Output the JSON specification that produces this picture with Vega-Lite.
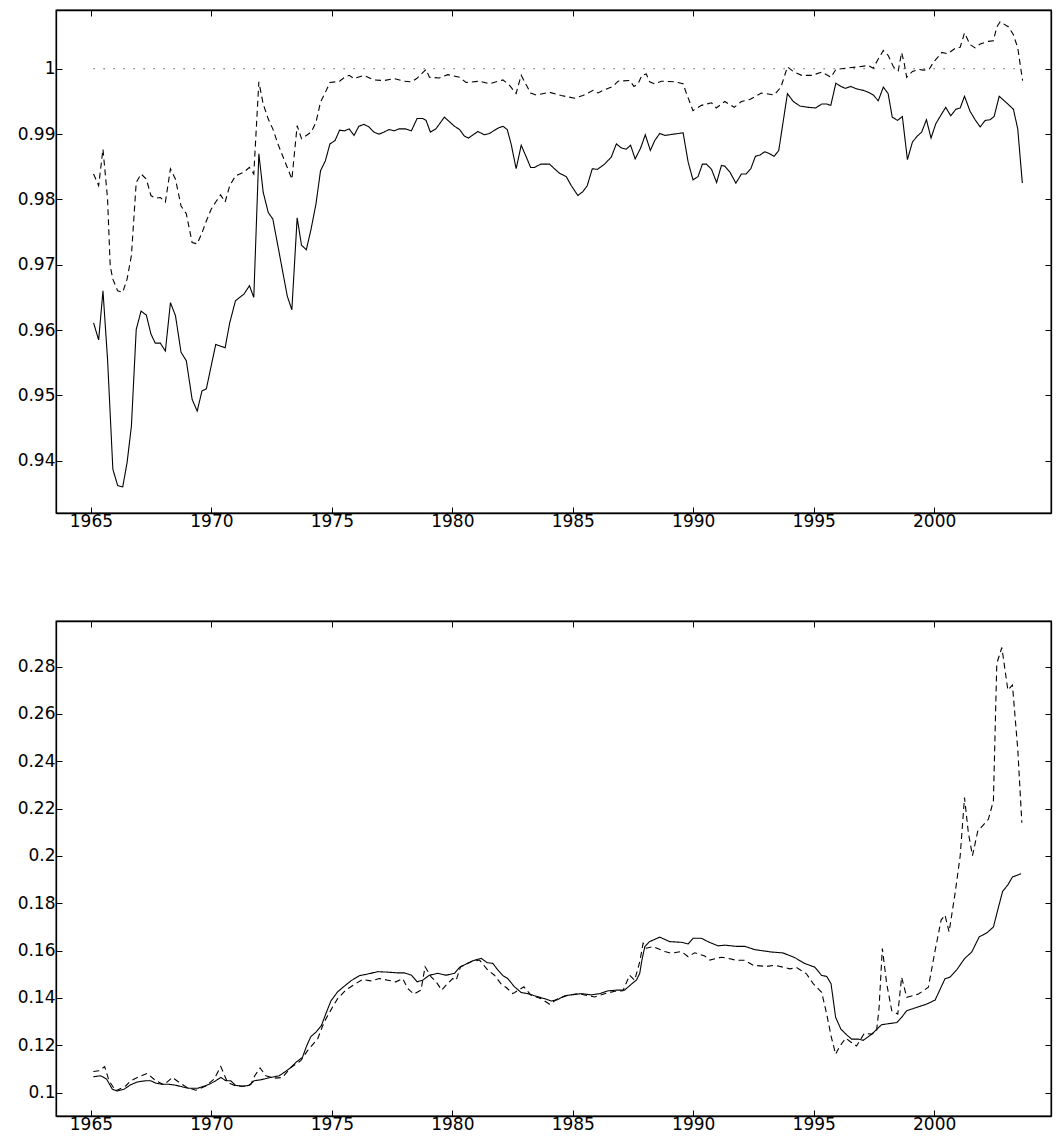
{
"$schema":"https://vega.github.io/schema/vega-lite/v6.json",
"background":"white",
"padding":{"left":16,"top":8,"right":2,"bottom":0},
"config":{"font":"DejaVu Sans","view":{"stroke":"black","strokeWidth":1.3},
 "axis":{"domainColor":"black","domainWidth":1.3,"tickColor":"black","tickSize":-6,"labelFontSize":17,"labelColor":"black","labelPadding":7,"grid":false,"title":null,"labelFont":"DejaVu Sans"},
 "axisX":{"labelPadding":6}},
"datasets":{
"top":[
{"t":1965.11,"v":0.9611,"s":"a"},{"t":1965.32,"v":0.9585,"s":"a"},{"t":1965.5,"v":0.966,"s":"a"},{"t":1965.69,"v":0.9555,"s":"a"},{"t":1965.91,"v":0.9387,"s":"a"},{"t":1966.11,"v":0.9362,"s":"a"},{"t":1966.32,"v":0.936,"s":"a"},{"t":1966.5,"v":0.9397,"s":"a"},{"t":1966.68,"v":0.9453,"s":"a"},{"t":1966.88,"v":0.9601,"s":"a"},{"t":1967.08,"v":0.9629,"s":"a"},{"t":1967.3,"v":0.9623,"s":"a"},{"t":1967.49,"v":0.9594,"s":"a"},{"t":1967.67,"v":0.958,"s":"a"},{"t":1967.88,"v":0.958,"s":"a"},{"t":1968.09,"v":0.9568,"s":"a"},{"t":1968.3,"v":0.9642,"s":"a"},{"t":1968.51,"v":0.9622,"s":"a"},{"t":1968.74,"v":0.9566,"s":"a"},{"t":1968.96,"v":0.9553,"s":"a"},{"t":1969.2,"v":0.9494,"s":"a"},{"t":1969.41,"v":0.9476,"s":"a"},{"t":1969.61,"v":0.9507,"s":"a"},{"t":1969.79,"v":0.951,"s":"a"},{"t":1969.99,"v":0.9545,"s":"a"},{"t":1970.18,"v":0.9578,"s":"a"},{"t":1970.57,"v":0.9573,"s":"a"},{"t":1970.76,"v":0.9611,"s":"a"},{"t":1971.0,"v":0.9645,"s":"a"},{"t":1971.35,"v":0.9655,"s":"a"},{"t":1971.58,"v":0.9668,"s":"a"},{"t":1971.76,"v":0.965,"s":"a"},{"t":1971.97,"v":0.987,"s":"a"},{"t":1972.15,"v":0.9811,"s":"a"},{"t":1972.36,"v":0.978,"s":"a"},{"t":1972.55,"v":0.977,"s":"a"},{"t":1972.76,"v":0.9729,"s":"a"},{"t":1973.15,"v":0.9652,"s":"a"},{"t":1973.34,"v":0.9631,"s":"a"},{"t":1973.56,"v":0.9772,"s":"a"},{"t":1973.74,"v":0.973,"s":"a"},{"t":1973.94,"v":0.9723,"s":"a"},{"t":1974.14,"v":0.9755,"s":"a"},{"t":1974.34,"v":0.9793,"s":"a"},{"t":1974.53,"v":0.9844,"s":"a"},{"t":1974.73,"v":0.9859,"s":"a"},{"t":1974.92,"v":0.9885,"s":"a"},{"t":1975.13,"v":0.989,"s":"a"},{"t":1975.32,"v":0.9906,"s":"a"},{"t":1975.53,"v":0.9905,"s":"a"},{"t":1975.72,"v":0.9908,"s":"a"},{"t":1975.92,"v":0.9898,"s":"a"},{"t":1976.12,"v":0.9912,"s":"a"},{"t":1976.33,"v":0.9915,"s":"a"},{"t":1976.54,"v":0.9911,"s":"a"},{"t":1976.75,"v":0.9903,"s":"a"},{"t":1976.96,"v":0.99,"s":"a"},{"t":1977.16,"v":0.9903,"s":"a"},{"t":1977.37,"v":0.9907,"s":"a"},{"t":1977.58,"v":0.9905,"s":"a"},{"t":1977.79,"v":0.9908,"s":"a"},{"t":1978.06,"v":0.9908,"s":"a"},{"t":1978.3,"v":0.9905,"s":"a"},{"t":1978.54,"v":0.9924,"s":"a"},{"t":1978.77,"v":0.9924,"s":"a"},{"t":1978.91,"v":0.9921,"s":"a"},{"t":1979.09,"v":0.9903,"s":"a"},{"t":1979.32,"v":0.9908,"s":"a"},{"t":1979.67,"v":0.9926,"s":"a"},{"t":1980.09,"v":0.9912,"s":"a"},{"t":1980.3,"v":0.9907,"s":"a"},{"t":1980.5,"v":0.9897,"s":"a"},{"t":1980.67,"v":0.9894,"s":"a"},{"t":1981.06,"v":0.9904,"s":"a"},{"t":1981.33,"v":0.9899,"s":"a"},{"t":1981.54,"v":0.9901,"s":"a"},{"t":1981.89,"v":0.9909,"s":"a"},{"t":1982.1,"v":0.9912,"s":"a"},{"t":1982.28,"v":0.9907,"s":"a"},{"t":1982.44,"v":0.9885,"s":"a"},{"t":1982.65,"v":0.9847,"s":"a"},{"t":1982.86,"v":0.9883,"s":"a"},{"t":1983.07,"v":0.9865,"s":"a"},{"t":1983.25,"v":0.9849,"s":"a"},{"t":1983.41,"v":0.9849,"s":"a"},{"t":1983.67,"v":0.9854,"s":"a"},{"t":1984.04,"v":0.9854,"s":"a"},{"t":1984.24,"v":0.9847,"s":"a"},{"t":1984.45,"v":0.984,"s":"a"},{"t":1984.73,"v":0.9835,"s":"a"},{"t":1984.94,"v":0.9821,"s":"a"},{"t":1985.21,"v":0.9806,"s":"a"},{"t":1985.42,"v":0.9812,"s":"a"},{"t":1985.6,"v":0.9821,"s":"a"},{"t":1985.81,"v":0.9847,"s":"a"},{"t":1986.02,"v":0.9846,"s":"a"},{"t":1986.32,"v":0.9854,"s":"a"},{"t":1986.6,"v":0.9865,"s":"a"},{"t":1986.81,"v":0.9885,"s":"a"},{"t":1987.01,"v":0.9879,"s":"a"},{"t":1987.22,"v":0.9877,"s":"a"},{"t":1987.4,"v":0.9883,"s":"a"},{"t":1987.59,"v":0.9862,"s":"a"},{"t":1987.82,"v":0.9879,"s":"a"},{"t":1988.01,"v":0.9899,"s":"a"},{"t":1988.22,"v":0.9875,"s":"a"},{"t":1988.4,"v":0.989,"s":"a"},{"t":1988.61,"v":0.9901,"s":"a"},{"t":1988.82,"v":0.9898,"s":"a"},{"t":1989.58,"v":0.9902,"s":"a"},{"t":1989.79,"v":0.9857,"s":"a"},{"t":1989.99,"v":0.983,"s":"a"},{"t":1990.2,"v":0.9835,"s":"a"},{"t":1990.38,"v":0.9854,"s":"a"},{"t":1990.55,"v":0.9854,"s":"a"},{"t":1990.76,"v":0.9846,"s":"a"},{"t":1990.97,"v":0.9826,"s":"a"},{"t":1991.17,"v":0.9852,"s":"a"},{"t":1991.31,"v":0.9851,"s":"a"},{"t":1991.52,"v":0.9842,"s":"a"},{"t":1991.77,"v":0.9825,"s":"a"},{"t":1992.0,"v":0.9839,"s":"a"},{"t":1992.2,"v":0.9839,"s":"a"},{"t":1992.39,"v":0.9847,"s":"a"},{"t":1992.58,"v":0.9866,"s":"a"},{"t":1992.77,"v":0.9868,"s":"a"},{"t":1992.97,"v":0.9873,"s":"a"},{"t":1993.17,"v":0.987,"s":"a"},{"t":1993.36,"v":0.9866,"s":"a"},{"t":1993.55,"v":0.9875,"s":"a"},{"t":1993.91,"v":0.9962,"s":"a"},{"t":1994.15,"v":0.995,"s":"a"},{"t":1994.43,"v":0.9943,"s":"a"},{"t":1994.77,"v":0.9941,"s":"a"},{"t":1995.08,"v":0.994,"s":"a"},{"t":1995.33,"v":0.9946,"s":"a"},{"t":1995.54,"v":0.9946,"s":"a"},{"t":1995.71,"v":0.9944,"s":"a"},{"t":1995.92,"v":0.9978,"s":"a"},{"t":1996.13,"v":0.9973,"s":"a"},{"t":1996.32,"v":0.997,"s":"a"},{"t":1996.53,"v":0.9973,"s":"a"},{"t":1996.8,"v":0.9969,"s":"a"},{"t":1997.06,"v":0.9967,"s":"a"},{"t":1997.27,"v":0.9964,"s":"a"},{"t":1997.47,"v":0.996,"s":"a"},{"t":1997.68,"v":0.9951,"s":"a"},{"t":1997.89,"v":0.9972,"s":"a"},{"t":1998.09,"v":0.9962,"s":"a"},{"t":1998.26,"v":0.9926,"s":"a"},{"t":1998.48,"v":0.9921,"s":"a"},{"t":1998.68,"v":0.9927,"s":"a"},{"t":1998.89,"v":0.9861,"s":"a"},{"t":1999.1,"v":0.9888,"s":"a"},{"t":1999.3,"v":0.9897,"s":"a"},{"t":1999.48,"v":0.9903,"s":"a"},{"t":1999.68,"v":0.9922,"s":"a"},{"t":1999.87,"v":0.9894,"s":"a"},{"t":2000.07,"v":0.9916,"s":"a"},{"t":2000.28,"v":0.9929,"s":"a"},{"t":2000.48,"v":0.9941,"s":"a"},{"t":2000.69,"v":0.9928,"s":"a"},{"t":2000.9,"v":0.9938,"s":"a"},{"t":2001.08,"v":0.994,"s":"a"},{"t":2001.26,"v":0.9958,"s":"a"},{"t":2001.49,"v":0.9935,"s":"a"},{"t":2001.7,"v":0.9922,"s":"a"},{"t":2001.91,"v":0.9911,"s":"a"},{"t":2002.12,"v":0.9921,"s":"a"},{"t":2002.32,"v":0.9922,"s":"a"},{"t":2002.49,"v":0.9927,"s":"a"},{"t":2002.7,"v":0.9958,"s":"a"},{"t":2002.91,"v":0.9951,"s":"a"},{"t":2003.09,"v":0.9945,"s":"a"},{"t":2003.29,"v":0.9938,"s":"a"},{"t":2003.47,"v":0.9908,"s":"a"},{"t":2003.66,"v":0.9825,"s":"a"},
{"t":1965.11,"v":0.9839,"s":"b"},{"t":1965.32,"v":0.9821,"s":"b"},{"t":1965.5,"v":0.9877,"s":"b"},{"t":1965.69,"v":0.9801,"s":"b"},{"t":1965.8,"v":0.9698,"s":"b"},{"t":1965.91,"v":0.9678,"s":"b"},{"t":1966.11,"v":0.966,"s":"b"},{"t":1966.32,"v":0.9658,"s":"b"},{"t":1966.5,"v":0.9678,"s":"b"},{"t":1966.68,"v":0.9714,"s":"b"},{"t":1966.88,"v":0.9826,"s":"b"},{"t":1967.08,"v":0.9839,"s":"b"},{"t":1967.3,"v":0.9831,"s":"b"},{"t":1967.49,"v":0.9806,"s":"b"},{"t":1967.67,"v":0.9802,"s":"b"},{"t":1967.88,"v":0.9803,"s":"b"},{"t":1968.09,"v":0.9796,"s":"b"},{"t":1968.3,"v":0.9847,"s":"b"},{"t":1968.51,"v":0.9831,"s":"b"},{"t":1968.74,"v":0.979,"s":"b"},{"t":1968.96,"v":0.9778,"s":"b"},{"t":1969.2,"v":0.9734,"s":"b"},{"t":1969.41,"v":0.9732,"s":"b"},{"t":1969.61,"v":0.9749,"s":"b"},{"t":1969.79,"v":0.9767,"s":"b"},{"t":1969.99,"v":0.9785,"s":"b"},{"t":1970.18,"v":0.9796,"s":"b"},{"t":1970.38,"v":0.9807,"s":"b"},{"t":1970.57,"v":0.9796,"s":"b"},{"t":1970.76,"v":0.9821,"s":"b"},{"t":1971.0,"v":0.9836,"s":"b"},{"t":1971.35,"v":0.9842,"s":"b"},{"t":1971.58,"v":0.9849,"s":"b"},{"t":1971.76,"v":0.9839,"s":"b"},{"t":1971.97,"v":0.998,"s":"b"},{"t":1972.15,"v":0.9946,"s":"b"},{"t":1972.36,"v":0.9923,"s":"b"},{"t":1972.55,"v":0.9908,"s":"b"},{"t":1972.76,"v":0.9885,"s":"b"},{"t":1973.15,"v":0.9849,"s":"b"},{"t":1973.34,"v":0.9831,"s":"b"},{"t":1973.56,"v":0.9913,"s":"b"},{"t":1973.74,"v":0.9893,"s":"b"},{"t":1973.94,"v":0.9898,"s":"b"},{"t":1974.14,"v":0.9903,"s":"b"},{"t":1974.34,"v":0.9918,"s":"b"},{"t":1974.53,"v":0.9949,"s":"b"},{"t":1974.73,"v":0.9964,"s":"b"},{"t":1974.92,"v":0.9979,"s":"b"},{"t":1975.13,"v":0.998,"s":"b"},{"t":1975.32,"v":0.9981,"s":"b"},{"t":1975.53,"v":0.9987,"s":"b"},{"t":1975.72,"v":0.999,"s":"b"},{"t":1975.92,"v":0.9985,"s":"b"},{"t":1976.33,"v":0.999,"s":"b"},{"t":1976.75,"v":0.9983,"s":"b"},{"t":1977.16,"v":0.9982,"s":"b"},{"t":1977.58,"v":0.9985,"s":"b"},{"t":1978.0,"v":0.9981,"s":"b"},{"t":1978.3,"v":0.998,"s":"b"},{"t":1978.52,"v":0.9985,"s":"b"},{"t":1978.91,"v":0.9999,"s":"b"},{"t":1979.05,"v":0.9987,"s":"b"},{"t":1979.46,"v":0.9986,"s":"b"},{"t":1979.81,"v":0.9991,"s":"b"},{"t":1980.3,"v":0.9987,"s":"b"},{"t":1980.57,"v":0.9979,"s":"b"},{"t":1981.13,"v":0.9981,"s":"b"},{"t":1981.54,"v":0.9977,"s":"b"},{"t":1982.1,"v":0.9983,"s":"b"},{"t":1982.37,"v":0.9975,"s":"b"},{"t":1982.65,"v":0.9962,"s":"b"},{"t":1982.72,"v":0.9972,"s":"b"},{"t":1982.86,"v":0.999,"s":"b"},{"t":1983.0,"v":0.998,"s":"b"},{"t":1983.25,"v":0.9963,"s":"b"},{"t":1983.48,"v":0.996,"s":"b"},{"t":1984.04,"v":0.9964,"s":"b"},{"t":1984.52,"v":0.9959,"s":"b"},{"t":1985.08,"v":0.9955,"s":"b"},{"t":1985.42,"v":0.9959,"s":"b"},{"t":1985.84,"v":0.9967,"s":"b"},{"t":1986.05,"v":0.9963,"s":"b"},{"t":1986.25,"v":0.9967,"s":"b"},{"t":1986.67,"v":0.9973,"s":"b"},{"t":1986.88,"v":0.9981,"s":"b"},{"t":1987.36,"v":0.9982,"s":"b"},{"t":1987.54,"v":0.9973,"s":"b"},{"t":1987.71,"v":0.9977,"s":"b"},{"t":1987.87,"v":0.999,"s":"b"},{"t":1988.05,"v":0.9992,"s":"b"},{"t":1988.19,"v":0.998,"s":"b"},{"t":1988.4,"v":0.9977,"s":"b"},{"t":1988.68,"v":0.9981,"s":"b"},{"t":1989.23,"v":0.998,"s":"b"},{"t":1989.58,"v":0.9977,"s":"b"},{"t":1989.72,"v":0.9962,"s":"b"},{"t":1989.99,"v":0.9936,"s":"b"},{"t":1990.34,"v":0.9944,"s":"b"},{"t":1990.76,"v":0.9948,"s":"b"},{"t":1990.96,"v":0.994,"s":"b"},{"t":1991.31,"v":0.995,"s":"b"},{"t":1991.7,"v":0.9941,"s":"b"},{"t":1992.0,"v":0.995,"s":"b"},{"t":1992.35,"v":0.9953,"s":"b"},{"t":1992.83,"v":0.9963,"s":"b"},{"t":1993.36,"v":0.996,"s":"b"},{"t":1993.64,"v":0.9972,"s":"b"},{"t":1993.91,"v":1.0003,"s":"b"},{"t":1994.15,"v":0.9996,"s":"b"},{"t":1994.5,"v":0.999,"s":"b"},{"t":1994.94,"v":0.999,"s":"b"},{"t":1995.33,"v":0.9995,"s":"b"},{"t":1995.72,"v":0.9987,"s":"b"},{"t":1995.92,"v":0.9999,"s":"b"},{"t":1996.37,"v":1.0001,"s":"b"},{"t":1996.85,"v":1.0003,"s":"b"},{"t":1997.27,"v":1.0005,"s":"b"},{"t":1997.47,"v":1.0001,"s":"b"},{"t":1997.68,"v":1.0015,"s":"b"},{"t":1997.89,"v":1.0028,"s":"b"},{"t":1998.1,"v":1.002,"s":"b"},{"t":1998.31,"v":1.0003,"s":"b"},{"t":1998.51,"v":0.9997,"s":"b"},{"t":1998.65,"v":1.0025,"s":"b"},{"t":1998.75,"v":1.001,"s":"b"},{"t":1998.86,"v":0.9987,"s":"b"},{"t":1999.1,"v":0.9996,"s":"b"},{"t":1999.35,"v":0.9999,"s":"b"},{"t":1999.55,"v":0.9998,"s":"b"},{"t":1999.79,"v":0.9999,"s":"b"},{"t":1999.97,"v":1.001,"s":"b"},{"t":2000.32,"v":1.0025,"s":"b"},{"t":2000.56,"v":1.0023,"s":"b"},{"t":2000.9,"v":1.0032,"s":"b"},{"t":2001.08,"v":1.0033,"s":"b"},{"t":2001.26,"v":1.0055,"s":"b"},{"t":2001.49,"v":1.0037,"s":"b"},{"t":2001.7,"v":1.0032,"s":"b"},{"t":2001.91,"v":1.0038,"s":"b"},{"t":2002.25,"v":1.0042,"s":"b"},{"t":2002.46,"v":1.0043,"s":"b"},{"t":2002.6,"v":1.0064,"s":"b"},{"t":2002.74,"v":1.0072,"s":"b"},{"t":2003.09,"v":1.0064,"s":"b"},{"t":2003.29,"v":1.0052,"s":"b"},{"t":2003.47,"v":1.0032,"s":"b"},{"t":2003.67,"v":0.9982,"s":"b"},
{"t":1965.11,"v":1,"s":"c"},{"t":2003.67,"v":1,"s":"c"}
],
"bot":[
{"t":1965.1,"v":0.1067,"s":"a"},{"t":1965.4,"v":0.1071,"s":"a"},{"t":1965.65,"v":0.1057,"s":"a"},{"t":1965.89,"v":0.1014,"s":"a"},{"t":1966.09,"v":0.1007,"s":"a"},{"t":1966.37,"v":0.1014,"s":"a"},{"t":1966.65,"v":0.1033,"s":"a"},{"t":1966.93,"v":0.1045,"s":"a"},{"t":1967.27,"v":0.105,"s":"a"},{"t":1967.48,"v":0.105,"s":"a"},{"t":1967.69,"v":0.104,"s":"a"},{"t":1967.96,"v":0.1035,"s":"a"},{"t":1968.24,"v":0.1035,"s":"a"},{"t":1968.52,"v":0.1031,"s":"a"},{"t":1968.8,"v":0.1024,"s":"a"},{"t":1969.07,"v":0.1018,"s":"a"},{"t":1969.42,"v":0.1018,"s":"a"},{"t":1969.7,"v":0.1027,"s":"a"},{"t":1969.97,"v":0.1038,"s":"a"},{"t":1970.18,"v":0.105,"s":"a"},{"t":1970.39,"v":0.1064,"s":"a"},{"t":1970.6,"v":0.105,"s":"a"},{"t":1970.8,"v":0.105,"s":"a"},{"t":1971.01,"v":0.103,"s":"a"},{"t":1971.29,"v":0.1027,"s":"a"},{"t":1971.57,"v":0.103,"s":"a"},{"t":1971.77,"v":0.105,"s":"a"},{"t":1972.05,"v":0.1054,"s":"a"},{"t":1972.33,"v":0.1061,"s":"a"},{"t":1972.61,"v":0.1067,"s":"a"},{"t":1972.81,"v":0.1071,"s":"a"},{"t":1973.02,"v":0.1085,"s":"a"},{"t":1973.3,"v":0.1106,"s":"a"},{"t":1973.51,"v":0.1128,"s":"a"},{"t":1973.78,"v":0.1149,"s":"a"},{"t":1973.96,"v":0.1199,"s":"a"},{"t":1974.13,"v":0.1237,"s":"a"},{"t":1974.34,"v":0.1255,"s":"a"},{"t":1974.57,"v":0.1284,"s":"a"},{"t":1974.75,"v":0.1333,"s":"a"},{"t":1974.96,"v":0.1387,"s":"a"},{"t":1975.24,"v":0.1426,"s":"a"},{"t":1975.52,"v":0.145,"s":"a"},{"t":1975.79,"v":0.1472,"s":"a"},{"t":1976.14,"v":0.1494,"s":"a"},{"t":1976.49,"v":0.1501,"s":"a"},{"t":1976.9,"v":0.1511,"s":"a"},{"t":1977.32,"v":0.1509,"s":"a"},{"t":1977.73,"v":0.1506,"s":"a"},{"t":1978.01,"v":0.1506,"s":"a"},{"t":1978.31,"v":0.1496,"s":"a"},{"t":1978.54,"v":0.1468,"s":"a"},{"t":1978.77,"v":0.1475,"s":"a"},{"t":1979.05,"v":0.1496,"s":"a"},{"t":1979.4,"v":0.1504,"s":"a"},{"t":1979.74,"v":0.1496,"s":"a"},{"t":1980.09,"v":0.1504,"s":"a"},{"t":1980.3,"v":0.1529,"s":"a"},{"t":1980.57,"v":0.1543,"s":"a"},{"t":1980.85,"v":0.1557,"s":"a"},{"t":1981.2,"v":0.1567,"s":"a"},{"t":1981.45,"v":0.1549,"s":"a"},{"t":1981.68,"v":0.1546,"s":"a"},{"t":1981.89,"v":0.1518,"s":"a"},{"t":1982.1,"v":0.1494,"s":"a"},{"t":1982.3,"v":0.1482,"s":"a"},{"t":1982.58,"v":0.1447,"s":"a"},{"t":1982.86,"v":0.1423,"s":"a"},{"t":1983.14,"v":0.1418,"s":"a"},{"t":1983.48,"v":0.1407,"s":"a"},{"t":1983.83,"v":0.1397,"s":"a"},{"t":1984.11,"v":0.1387,"s":"a"},{"t":1984.38,"v":0.1393,"s":"a"},{"t":1984.66,"v":0.1409,"s":"a"},{"t":1985.01,"v":0.1414,"s":"a"},{"t":1985.35,"v":0.1418,"s":"a"},{"t":1985.77,"v":0.1413,"s":"a"},{"t":1986.11,"v":0.1418,"s":"a"},{"t":1986.46,"v":0.143,"s":"a"},{"t":1986.81,"v":0.1433,"s":"a"},{"t":1987.15,"v":0.1433,"s":"a"},{"t":1987.43,"v":0.1458,"s":"a"},{"t":1987.64,"v":0.1475,"s":"a"},{"t":1987.78,"v":0.1504,"s":"a"},{"t":1987.87,"v":0.156,"s":"a"},{"t":1987.99,"v":0.1617,"s":"a"},{"t":1988.19,"v":0.1638,"s":"a"},{"t":1988.61,"v":0.1657,"s":"a"},{"t":1989.02,"v":0.1638,"s":"a"},{"t":1989.51,"v":0.1635,"s":"a"},{"t":1989.79,"v":0.1628,"s":"a"},{"t":1989.99,"v":0.1652,"s":"a"},{"t":1990.34,"v":0.1652,"s":"a"},{"t":1990.69,"v":0.1634,"s":"a"},{"t":1991.03,"v":0.162,"s":"a"},{"t":1991.31,"v":0.1623,"s":"a"},{"t":1991.79,"v":0.1618,"s":"a"},{"t":1992.14,"v":0.1618,"s":"a"},{"t":1992.56,"v":0.1604,"s":"a"},{"t":1993.25,"v":0.1594,"s":"a"},{"t":1993.73,"v":0.159,"s":"a"},{"t":1994.22,"v":0.157,"s":"a"},{"t":1994.64,"v":0.1545,"s":"a"},{"t":1995.05,"v":0.153,"s":"a"},{"t":1995.33,"v":0.1495,"s":"a"},{"t":1995.54,"v":0.1491,"s":"a"},{"t":1995.72,"v":0.146,"s":"a"},{"t":1995.91,"v":0.1318,"s":"a"},{"t":1996.13,"v":0.1268,"s":"a"},{"t":1996.37,"v":0.1244,"s":"a"},{"t":1996.57,"v":0.1226,"s":"a"},{"t":1996.85,"v":0.1226,"s":"a"},{"t":1997.06,"v":0.1221,"s":"a"},{"t":1997.41,"v":0.1247,"s":"a"},{"t":1997.82,"v":0.1287,"s":"a"},{"t":1998.45,"v":0.1296,"s":"a"},{"t":1998.65,"v":0.1318,"s":"a"},{"t":1998.86,"v":0.1346,"s":"a"},{"t":1999.28,"v":0.136,"s":"a"},{"t":1999.69,"v":0.1374,"s":"a"},{"t":2000.04,"v":0.1391,"s":"a"},{"t":2000.45,"v":0.1481,"s":"a"},{"t":2000.66,"v":0.1488,"s":"a"},{"t":2000.94,"v":0.1519,"s":"a"},{"t":2001.26,"v":0.1566,"s":"a"},{"t":2001.56,"v":0.1594,"s":"a"},{"t":2001.87,"v":0.1658,"s":"a"},{"t":2002.19,"v":0.1675,"s":"a"},{"t":2002.46,"v":0.17,"s":"a"},{"t":2002.64,"v":0.1772,"s":"a"},{"t":2002.84,"v":0.185,"s":"a"},{"t":2003.06,"v":0.1878,"s":"a"},{"t":2003.25,"v":0.1911,"s":"a"},{"t":2003.61,"v":0.1925,"s":"a"},
{"t":1965.1,"v":0.1089,"s":"b"},{"t":1965.33,"v":0.1092,"s":"b"},{"t":1965.57,"v":0.111,"s":"b"},{"t":1965.75,"v":0.105,"s":"b"},{"t":1966.03,"v":0.1007,"s":"b"},{"t":1966.44,"v":0.1028,"s":"b"},{"t":1966.65,"v":0.105,"s":"b"},{"t":1967.0,"v":0.1067,"s":"b"},{"t":1967.34,"v":0.1081,"s":"b"},{"t":1967.69,"v":0.105,"s":"b"},{"t":1968.03,"v":0.1033,"s":"b"},{"t":1968.38,"v":0.1064,"s":"b"},{"t":1968.66,"v":0.1043,"s":"b"},{"t":1969.0,"v":0.1021,"s":"b"},{"t":1969.35,"v":0.101,"s":"b"},{"t":1969.77,"v":0.1028,"s":"b"},{"t":1970.11,"v":0.1057,"s":"b"},{"t":1970.39,"v":0.111,"s":"b"},{"t":1970.67,"v":0.1043,"s":"b"},{"t":1971.01,"v":0.1028,"s":"b"},{"t":1971.36,"v":0.1027,"s":"b"},{"t":1971.64,"v":0.1035,"s":"b"},{"t":1971.8,"v":0.1071,"s":"b"},{"t":1972.02,"v":0.1104,"s":"b"},{"t":1972.26,"v":0.1071,"s":"b"},{"t":1972.61,"v":0.1061,"s":"b"},{"t":1972.95,"v":0.1064,"s":"b"},{"t":1973.3,"v":0.1106,"s":"b"},{"t":1973.71,"v":0.1135,"s":"b"},{"t":1973.99,"v":0.1177,"s":"b"},{"t":1974.41,"v":0.1227,"s":"b"},{"t":1974.68,"v":0.1298,"s":"b"},{"t":1975.03,"v":0.1362,"s":"b"},{"t":1975.24,"v":0.1397,"s":"b"},{"t":1975.58,"v":0.1433,"s":"b"},{"t":1976.0,"v":0.1461,"s":"b"},{"t":1976.28,"v":0.1478,"s":"b"},{"t":1976.62,"v":0.1472,"s":"b"},{"t":1976.97,"v":0.1482,"s":"b"},{"t":1977.32,"v":0.1475,"s":"b"},{"t":1977.66,"v":0.1468,"s":"b"},{"t":1977.94,"v":0.1482,"s":"b"},{"t":1978.15,"v":0.144,"s":"b"},{"t":1978.4,"v":0.1416,"s":"b"},{"t":1978.7,"v":0.1433,"s":"b"},{"t":1978.87,"v":0.1532,"s":"b"},{"t":1979.12,"v":0.1489,"s":"b"},{"t":1979.33,"v":0.1468,"s":"b"},{"t":1979.56,"v":0.1433,"s":"b"},{"t":1979.74,"v":0.1454,"s":"b"},{"t":1980.02,"v":0.1482,"s":"b"},{"t":1980.16,"v":0.1475,"s":"b"},{"t":1980.34,"v":0.1532,"s":"b"},{"t":1980.78,"v":0.1553,"s":"b"},{"t":1981.13,"v":0.156,"s":"b"},{"t":1981.47,"v":0.1518,"s":"b"},{"t":1981.75,"v":0.1496,"s":"b"},{"t":1982.03,"v":0.1458,"s":"b"},{"t":1982.24,"v":0.1444,"s":"b"},{"t":1982.51,"v":0.1418,"s":"b"},{"t":1982.97,"v":0.1447,"s":"b"},{"t":1983.27,"v":0.1411,"s":"b"},{"t":1983.69,"v":0.1397,"s":"b"},{"t":1984.04,"v":0.1373,"s":"b"},{"t":1984.38,"v":0.1397,"s":"b"},{"t":1984.8,"v":0.1411,"s":"b"},{"t":1985.21,"v":0.1418,"s":"b"},{"t":1985.91,"v":0.1404,"s":"b"},{"t":1986.32,"v":0.1418,"s":"b"},{"t":1986.74,"v":0.1428,"s":"b"},{"t":1987.08,"v":0.143,"s":"b"},{"t":1987.36,"v":0.1496,"s":"b"},{"t":1987.57,"v":0.1475,"s":"b"},{"t":1987.78,"v":0.1553,"s":"b"},{"t":1987.92,"v":0.1631,"s":"b"},{"t":1988.05,"v":0.161,"s":"b"},{"t":1988.33,"v":0.1617,"s":"b"},{"t":1988.82,"v":0.1596,"s":"b"},{"t":1989.09,"v":0.1589,"s":"b"},{"t":1989.51,"v":0.1596,"s":"b"},{"t":1989.79,"v":0.1574,"s":"b"},{"t":1990.06,"v":0.1591,"s":"b"},{"t":1990.48,"v":0.1577,"s":"b"},{"t":1990.69,"v":0.156,"s":"b"},{"t":1991.17,"v":0.1572,"s":"b"},{"t":1991.31,"v":0.157,"s":"b"},{"t":1991.79,"v":0.1559,"s":"b"},{"t":1992.14,"v":0.1559,"s":"b"},{"t":1992.49,"v":0.1538,"s":"b"},{"t":1993.04,"v":0.1533,"s":"b"},{"t":1993.39,"v":0.1538,"s":"b"},{"t":1994.01,"v":0.1523,"s":"b"},{"t":1994.29,"v":0.1528,"s":"b"},{"t":1994.7,"v":0.1502,"s":"b"},{"t":1994.98,"v":0.146,"s":"b"},{"t":1995.33,"v":0.1424,"s":"b"},{"t":1995.54,"v":0.1332,"s":"b"},{"t":1995.72,"v":0.124,"s":"b"},{"t":1995.91,"v":0.1162,"s":"b"},{"t":1996.09,"v":0.1197,"s":"b"},{"t":1996.33,"v":0.123,"s":"b"},{"t":1996.51,"v":0.1216,"s":"b"},{"t":1996.78,"v":0.1197,"s":"b"},{"t":1997.1,"v":0.125,"s":"b"},{"t":1997.41,"v":0.1247,"s":"b"},{"t":1997.61,"v":0.1261,"s":"b"},{"t":1997.71,"v":0.1353,"s":"b"},{"t":1997.85,"v":0.1609,"s":"b"},{"t":1998.03,"v":0.146,"s":"b"},{"t":1998.24,"v":0.1346,"s":"b"},{"t":1998.49,"v":0.1332,"s":"b"},{"t":1998.65,"v":0.1488,"s":"b"},{"t":1998.86,"v":0.1403,"s":"b"},{"t":1999.14,"v":0.141,"s":"b"},{"t":1999.35,"v":0.1417,"s":"b"},{"t":1999.76,"v":0.1445,"s":"b"},{"t":2000.04,"v":0.1601,"s":"b"},{"t":2000.29,"v":0.1729,"s":"b"},{"t":2000.45,"v":0.175,"s":"b"},{"t":2000.62,"v":0.1679,"s":"b"},{"t":2000.87,"v":0.1843,"s":"b"},{"t":2001.08,"v":0.2,"s":"b"},{"t":2001.26,"v":0.2247,"s":"b"},{"t":2001.42,"v":0.2098,"s":"b"},{"t":2001.59,"v":0.2001,"s":"b"},{"t":2001.81,"v":0.2105,"s":"b"},{"t":2002.25,"v":0.2155,"s":"b"},{"t":2002.46,"v":0.2233,"s":"b"},{"t":2002.6,"v":0.2814,"s":"b"},{"t":2002.81,"v":0.2881,"s":"b"},{"t":2003.06,"v":0.2701,"s":"b"},{"t":2003.25,"v":0.2722,"s":"b"},{"t":2003.47,"v":0.2452,"s":"b"},{"t":2003.64,"v":0.214,"s":"b"}
]},
"spacing":89,
"vconcat":[
{"width":995,"height":503,"data":{"name":"top"},
 "layer":[
  {"mark":{"type":"line","color":"black","strokeWidth":1.1},
   "encoding":{"x":{"field":"t","type":"quantitative","scale":{"domain":[1963.55,2004.85],"nice":false,"zero":false},"axis":{"values":[1965,1970,1975,1980,1985,1990,1995,2000],"format":"d"}},
    "y":{"field":"v","type":"quantitative","scale":{"domain":[0.932,1.009],"nice":false,"zero":false},"axis":{"values":[0.94,0.95,0.96,0.97,0.98,0.99,1],"format":".2~f"}},
    "detail":{"field":"s"},
    "strokeDash":{"field":"s","type":"nominal","legend":null,"scale":{"domain":["a","b","c"],"range":[[1,0],[6,4],[1,9]]}}}},
  {"mark":{"type":"rule","opacity":0},
   "encoding":{"x":{"datum":1965,"type":"quantitative","scale":{"domain":[1963.55,2004.85],"nice":false},"axis":{"orient":"top","labels":false,"values":[1965,1970,1975,1980,1985,1990,1995,2000]}},
    "y":{"datum":0.94,"type":"quantitative","scale":{"domain":[0.932,1.009],"nice":false},"axis":{"orient":"right","labels":false,"values":[0.94,0.95,0.96,0.97,0.98,0.99,1]}}}}
 ],
 "resolve":{"axis":{"x":"independent","y":"independent"}}},
{"width":995,"height":495,"data":{"name":"bot"},
 "layer":[
  {"mark":{"type":"line","color":"black","strokeWidth":1.1},
   "encoding":{"x":{"field":"t","type":"quantitative","scale":{"domain":[1963.55,2004.85],"nice":false,"zero":false},"axis":{"values":[1965,1970,1975,1980,1985,1990,1995,2000],"format":"d"}},
    "y":{"field":"v","type":"quantitative","scale":{"domain":[0.0901,0.2993],"nice":false,"zero":false},"axis":{"values":[0.1,0.12,0.14,0.16,0.18,0.2,0.22,0.24,0.26,0.28],"format":".2~f"}},
    "detail":{"field":"s"},
    "strokeDash":{"field":"s","type":"nominal","legend":null,"scale":{"domain":["a","b"],"range":[[1,0],[6,4]]}}}},
  {"mark":{"type":"rule","opacity":0},
   "encoding":{"x":{"datum":1965,"type":"quantitative","scale":{"domain":[1963.55,2004.85],"nice":false},"axis":{"orient":"top","labels":false,"values":[1965,1970,1975,1980,1985,1990,1995,2000]}},
    "y":{"datum":0.1,"type":"quantitative","scale":{"domain":[0.0901,0.2993],"nice":false},"axis":{"orient":"right","labels":false,"values":[0.1,0.12,0.14,0.16,0.18,0.2,0.22,0.24,0.26,0.28]}}}}
 ],
 "resolve":{"axis":{"x":"independent","y":"independent"}}}
]}
